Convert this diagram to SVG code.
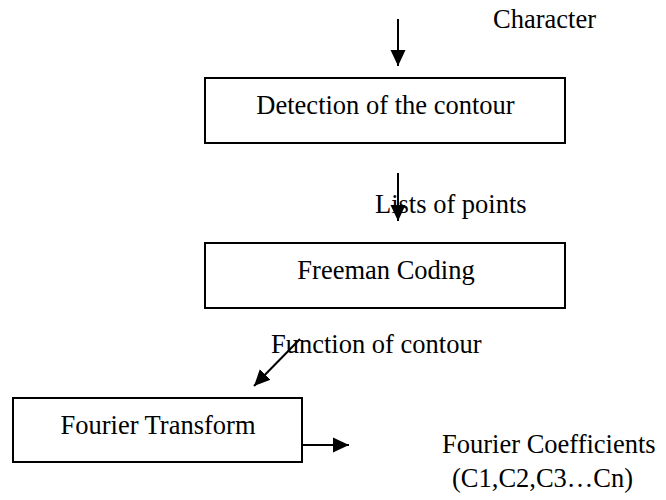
<svg xmlns="http://www.w3.org/2000/svg" width="666" height="500" viewBox="0 0 666 500">
<style>
.box{fill:#fff;stroke:#000;stroke-width:2}
.t{font-family:"Liberation Serif","Times New Roman",serif;font-size:26.5px;fill:#000}
.c{text-anchor:middle}
.conn{stroke:#000;stroke-width:2;fill:none}
</style>
<defs>
<marker id="ah" markerUnits="userSpaceOnUse" markerWidth="18" markerHeight="16" refX="16" refY="8" orient="auto">
<polygon points="0,0.5 16,8 0,15.5" fill="#000"/>
</marker>
</defs>
<rect width="666" height="500" fill="#fff"/>
<g id="character-label"><text class="t" x="493" y="28">Character</text></g>
<g id="detection">
<rect class="box" x="205" y="78" width="360" height="65"/>
<text class="t c" x="385.5" y="114">Detection of the contour</text>
</g>
<g id="freeman">
<rect class="box" x="205" y="243" width="360" height="65"/>
<text class="t c" x="386" y="279">Freeman Coding</text>
</g>
<g id="fourier">
<rect class="box" x="13" y="398" width="289" height="64"/>
<text class="t c" x="158" y="434">Fourier Transform</text>
</g>
<g id="labels">
<text class="t" x="375" y="213">Lists of points</text>
<text class="t" x="271" y="353">Function of contour</text>
<text class="t" x="442" y="453">Fourier Coefficients</text>
<text class="t" x="452" y="487">(C1,C2,C3…Cn)</text>
</g>
<g id="connectors">
<line class="conn" x1="398" y1="19" x2="398" y2="66" marker-end="url(#ah)"/>
<line class="conn" x1="398" y1="173" x2="398" y2="221" marker-end="url(#ah)"/>
<line class="conn" x1="300" y1="339" x2="254" y2="386" marker-end="url(#ah)"/>
<line class="conn" x1="302" y1="445" x2="349" y2="445" marker-end="url(#ah)"/>
</g>
</svg>
